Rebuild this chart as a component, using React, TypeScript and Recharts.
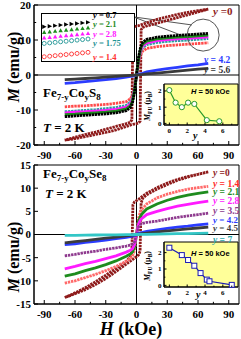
import React from 'react';
import { LineChart, Line, XAxis, YAxis, ReferenceLine, ReferenceArea, ReferenceDot, CartesianGrid } from 'recharts';

const SERIF = '"Liberation Serif", "Times New Roman", serif';
const SANS = '"Liberation Sans", Arial, sans-serif';

// field grids (kOe)
const fieldGrid = [-70, -60, -50, -40, -30, -20, -10, -6, -4, -2, 0, 2, 4, 6, 10, 20, 30, 40, 50, 60, 70];
const loopDown = [70, 60, 50, 40, 30, 20, 10, 5, 2, 0, -2, -3.5, -4.5, -6, -10, -20, -30, -40, -50, -60, -70];
const loopUp = [-70, -60, -50, -40, -30, -20, -10, -5, -2, 0, 2, 3.5, 4.5, 6, 10, 20, 30, 40, 50, 60, 70];
const hTicks = [-90, -75, -60, -45, -30, -15, 0, 15, 30, 45, 60, 75, 90];

// Fe7-yCoyS8, M (emu/g)
const s8Y0Down = [18.8, 18.4, 17.9, 17.3, 16.6, 15.9, 14.9, 14.4, 14.1, 14.0, 13.8, 13.3, -12.8, -13.5, -13.9, -14.7, -15.5, -16.3, -17.0, -17.8, -18.6];
const s8Y0Up = [-18.6, -18.2, -17.6, -17.0, -16.4, -15.7, -14.7, -14.2, -14.0, -13.9, -13.7, -13.2, 12.9, 13.6, 14.0, 14.8, 15.6, 16.4, 17.2, 18.0, 18.8];
const s8Y07 = [-11.9, -11.7, -11.5, -11.3, -11.1, -10.8, -10.2, -9.3, -8.0, -5.0, 0, 5.0, 8.0, 9.3, 10.2, 10.8, 11.1, 11.3, 11.5, 11.7, 11.9];
const s8Y21 = [-11.3, -11.2, -11.0, -10.8, -10.6, -10.3, -9.7, -8.8, -7.5, -4.5, 0, 4.5, 7.5, 8.8, 9.7, 10.3, 10.6, 10.8, 11.0, 11.2, 11.4];
const s8Y28 = [-10.8, -10.6, -10.5, -10.3, -10.1, -9.8, -9.2, -8.3, -7.0, -4.2, 0, 4.2, 7.0, 8.3, 9.2, 9.8, 10.1, 10.3, 10.5, 10.7, 10.9];
const s8Y175 = [-10.5, -10.3, -10.1, -9.9, -9.6, -9.3, -8.7, -7.8, -6.6, -4.0, 0, 4.0, 6.6, 7.8, 8.7, 9.3, 9.6, 9.8, 10.0, 10.2, 10.4];
const s8Y14 = [-9.1, -8.9, -8.8, -8.6, -8.4, -8.1, -7.6, -6.8, -5.8, -3.5, 0, 3.5, 5.8, 6.8, 7.6, 8.1, 8.4, 8.6, 8.8, 9.0, 9.2];
const s8Y42 = [-2.4, -2.2, -1.9, -1.6, -1.3, -1.0, -0.6, -0.4, -0.3, -0.15, 0, 0.2, 0.35, 0.5, 0.9, 1.4, 1.8, 2.2, 2.6, 2.9, 3.3];
const s8Y56 = [-1.3, -1.15, -1.0, -0.8, -0.6, -0.4, -0.2, -0.12, -0.08, -0.04, 0, 0.05, 0.1, 0.15, 0.3, 0.55, 0.8, 1.1, 1.4, 1.65, 1.9];

// zoomed inset (circled region)
const zoomH = [50, 52.5, 55, 57.5, 60, 62.5, 65, 67.5, 70];
const zoomY07 = [11.5, 11.55, 11.6, 11.65, 11.7, 11.75, 11.8, 11.85, 11.9];
const zoomY21 = [11.0, 11.05, 11.1, 11.15, 11.2, 11.25, 11.3, 11.35, 11.4];
const zoomY28 = [10.5, 10.55, 10.6, 10.65, 10.7, 10.75, 10.8, 10.85, 10.9];
const zoomY175 = [10.0, 10.05, 10.1, 10.15, 10.2, 10.25, 10.3, 10.35, 10.4];
const zoomY14 = [8.8, 8.85, 8.9, 8.95, 9.0, 9.05, 9.1, 9.15, 9.2];

// Fe7-yCoySe8, M (emu/g)
const se8Y0Down = [13.5, 13.0, 12.5, 11.9, 11.1, 10.1, 8.9, 8.1, 7.6, 7.3, 7.0, 6.4, -3.6, -4.8, -5.8, -7.3, -8.8, -10.2, -11.5, -12.6, -13.6];
const se8Y0Up = [-13.6, -12.8, -11.9, -10.8, -9.5, -8.0, -6.4, -5.6, -5.1, -4.8, -4.4, -3.6, 6.8, 7.8, 8.6, 9.8, 10.8, 11.7, 12.4, 13.0, 13.5];
const se8Y14 = [-10.5, -10.0, -9.3, -8.6, -7.8, -6.9, -5.8, -5.2, -4.7, -3.5, 0, 3.6, 5.0, 5.6, 6.6, 7.9, 8.7, 9.3, 9.8, 10.1, 10.4];
const se8Y21 = [-9.0, -8.5, -7.8, -7.2, -6.5, -5.7, -4.7, -4.2, -3.8, -2.8, 0, 2.9, 4.0, 4.6, 5.5, 6.6, 7.4, 8.0, 8.5, 8.9, 9.2];
const se8Y28 = [-7.4, -6.9, -6.3, -5.8, -5.2, -4.6, -3.8, -3.4, -3.1, -2.2, 0, 2.3, 3.2, 3.6, 4.3, 5.0, 5.6, 6.1, 6.5, 6.9, 7.2];
const se8Y35 = [-4.6, -4.3, -3.9, -3.6, -3.2, -2.9, -2.5, -2.3, -2.1, -1.6, 0, 1.6, 2.2, 2.4, 2.6, 2.9, 3.3, 3.7, 4.0, 4.3, 4.6];
const se8Y42 = [-2.2, -2.0, -1.7, -1.5, -1.2, -0.9, -0.6, -0.45, -0.35, -0.2, 0, 0.2, 0.35, 0.45, 0.7, 1.0, 1.3, 1.6, 1.8, 2.1, 2.3];
const se8Y45 = [-1.8, -1.55, -1.3, -1.05, -0.8, -0.55, -0.3, -0.2, -0.13, -0.07, 0, 0.07, 0.13, 0.2, 0.3, 0.55, 0.8, 1.0, 1.2, 1.4, 1.6];
const se8Y7 = [-0.2, -0.17, -0.14, -0.11, -0.08, -0.06, -0.03, -0.02, -0.01, 0, 0, 0, 0.01, 0.02, 0.04, 0.08, 0.12, 0.17, 0.21, 0.26, 0.3];

// M_FU (muB) at H = 50 kOe vs y
const s8Conc = [0, 0.7, 1.4, 2.1, 2.8, 4.2, 5.6];
const s8Mfu = [2.05, 1.28, 1.0, 1.28, 1.2, 0.2, 0.13];
const se8Conc = [0, 1.4, 2.1, 2.8, 3.5, 4.2, 4.5, 7];
const se8Mfu = [2.3, 1.85, 1.55, 1.2, 0.75, 0.35, 0.25, 0.03];

const pts = (hs: number[], ms: number[]) => hs.map((h, i) => ({ h, m: ms[i] }));

// open-symbol curves get a dashed texture so they read like rows of markers
const topSeries = [
  { key: 'y0', color: '#8e1b1b', dash: '2.4 0.8', data: [...pts(loopDown, s8Y0Down), ...pts(loopUp, s8Y0Up)] },
  { key: 'y14', color: '#ff4a4a', dash: '2.4 0.8', data: pts(fieldGrid, s8Y14) },
  { key: 'y175', color: '#2a9d9d', dash: '2.4 0.8', data: pts(fieldGrid, s8Y175) },
  { key: 'y28', color: '#ff1aff', data: pts(fieldGrid, s8Y28) },
  { key: 'y21', color: '#1e8c1e', data: pts(fieldGrid, s8Y21) },
  { key: 'y07', color: '#000000', dash: '2.4 0.6', data: pts(fieldGrid, s8Y07) },
  { key: 'y42', color: '#2b3cff', data: pts(fieldGrid, s8Y42) },
  { key: 'y56', color: '#3a3a3a', data: pts(fieldGrid, s8Y56) },
];

const zoomSeries = [
  { key: 'y14', color: '#ff3030', data: pts(zoomH, zoomY14), shape: 'open' },
  { key: 'y175', color: '#1f9494', data: pts(zoomH, zoomY175), shape: 'open' },
  { key: 'y28', color: '#ff1aff', data: pts(zoomH, zoomY28), shape: 'tri' },
  { key: 'y21', color: '#1e8c1e', data: pts(zoomH, zoomY21), shape: 'tri' },
  { key: 'y07', color: '#000000', data: pts(zoomH, zoomY07), shape: 'right' },
];

const bottomSeries = [
  { key: 'y0', color: '#8e1b1b', dash: '2.4 0.8', data: [...pts(loopDown, se8Y0Down), ...pts(loopUp, se8Y0Up)] },
  { key: 'y14', color: '#ff6a6a', dash: '2.4 0.8', data: pts(fieldGrid, se8Y14) },
  { key: 'y21', color: '#1e8c1e', data: pts(fieldGrid, se8Y21) },
  { key: 'y28', color: '#ff1aff', data: pts(fieldGrid, se8Y28) },
  { key: 'y35', color: '#8e3a8e', dash: '2.4 0.8', data: pts(fieldGrid, se8Y35) },
  { key: 'y42', color: '#2b3cff', data: pts(fieldGrid, se8Y42) },
  { key: 'y45', color: '#3c3c3c', data: pts(fieldGrid, se8Y45) },
  { key: 'y7', color: '#33c6c6', data: pts(fieldGrid, se8Y7) },
];

// inward ticks with labels outside
const xTick = (isMajor: (v: number) => boolean, len: number, fs: number, off: number) => (props: any) => {
  const { x, y, payload } = props;
  const v = payload.value as number;
  const major = isMajor(v);
  return (
    <g>
      <line x1={x} x2={x} y1={y} y2={y - (major ? len : len * 0.55)} stroke="#000" />
      {major && (
        <text x={x} y={y + off} textAnchor="middle" fontSize={fs} fontWeight="bold" fontFamily={SERIF} fill="#000">
          {v}
        </text>
      )}
    </g>
  );
};

const yTick = (isMajor: (v: number) => boolean, len: number, fs: number, gap: number) => (props: any) => {
  const { x, y, payload } = props;
  const v = payload.value as number;
  const major = isMajor(v);
  return (
    <g>
      <line x1={x} x2={x + (major ? len : len * 0.55)} y1={y} y2={y} stroke="#000" />
      {major && (
        <text x={x - gap} y={y + fs * 0.35} textAnchor="end" fontSize={fs} fontWeight="bold" fontFamily={SERIF} fill="#000">
          {v}
        </text>
      )}
    </g>
  );
};

const zoomDot = (shape: string, color: string) => (p: any) => {
  const { cx, cy, index } = p;
  if (shape === 'open') return <circle key={index} cx={cx} cy={cy} r={2} fill="#fff" stroke={color} strokeWidth={0.9} />;
  if (shape === 'right')
    return <path key={index} d={`M${cx - 2},${cy - 2.2}L${cx + 2.4},${cy}L${cx - 2},${cy + 2.2}Z`} fill={color} />;
  return <path key={index} d={`M${cx},${cy - 2.3}L${cx + 2.2},${cy + 1.6}L${cx - 2.2},${cy + 1.6}Z`} fill={color} />;
};

const squareDot = (p: any) => (
  <rect key={p.index} x={p.cx - 2.5} y={p.cy - 2.5} width={5} height={5} fill="#fff" stroke="#1c1cb4" strokeWidth={1} />
);
const circleDot = (p: any) => (
  <circle key={p.index} cx={p.cx} cy={p.cy} r={2.6} fill="#fff" stroke="#2a9a2a" strokeWidth={1} />
);

function MfuInset({ data, color, dot, yMax }: { data: { h: number; m: number }[]; color: string; dot: any; yMax: number }) {
  const h = yMax > 2.5 ? 67 : 62;
  return (
    <LineChart width={101} height={h} margin={{ top: 6, right: 3, left: 0, bottom: 0 }}>
      <CartesianGrid fill="#ffff99" horizontal={false} vertical={false} />
      <XAxis
        dataKey="h"
        type="number"
        domain={[-0.6, 7.7]}
        ticks={[0, 1, 2, 3, 4, 5, 6, 7]}
        interval={0}
        tickSize={0}
        tickMargin={0}
        tickLine={false}
        axisLine={{ stroke: '#000' }}
        height={h - 6 - (yMax > 2.5 ? 45 : 41)}
        tick={xTick((v) => v % 2 === 0, 2.5, 7, 8)}
      />
      <YAxis
        type="number"
        domain={[-0.1, yMax]}
        ticks={[0, 0.5, 1, 1.5, 2]}
        interval={0}
        tickSize={0}
        tickMargin={0}
        tickLine={false}
        axisLine={{ stroke: '#000' }}
        width={24}
        tick={yTick((v) => Number.isInteger(v), 2.5, 7, 2.5)}
      />
      <ReferenceArea x1={-0.6} x2={7.7} y1={-0.1} y2={yMax} fill="none" stroke="#000" />
      <Line data={data} dataKey="m" stroke={color} strokeWidth={1.2} dot={dot} isAnimationActive={false} />
    </LineChart>
  );
}

function Panel({ series, yDomain, yTicks, yMajor, height, axisH, children }: any) {
  return (
    <LineChart width={241} height={height} margin={{ top: 5, right: 2, left: 0, bottom: 0 }}>
      <XAxis
        dataKey="h"
        type="number"
        domain={[-100, 100]}
        ticks={hTicks}
        interval={0}
        tickSize={0}
        tickMargin={0}
        tickLine={false}
        axisLine={{ stroke: '#000' }}
        height={axisH}
        tick={xTick((v) => v % 30 === 0, 4, 11, 14)}
      />
      <YAxis
        type="number"
        domain={yDomain}
        ticks={yTicks}
        interval={0}
        tickSize={0}
        tickMargin={0}
        tickLine={false}
        axisLine={{ stroke: '#000' }}
        width={34}
        tick={yTick(yMajor, 4, 11, 3)}
      />
      <ReferenceArea x1={-100} x2={100} y1={yDomain[0]} y2={yDomain[1]} fill="none" stroke="#000" />
      <ReferenceLine x={0} stroke="#000" />
      <ReferenceLine y={0} stroke="#000" />
      {children}
      {series.map((s: any) => (
        <Line
          key={s.key}
          data={s.data}
          dataKey="m"
          stroke={s.color}
          strokeWidth={2.8}
          strokeDasharray={s.dash}
          dot={false}
          isAnimationActive={false}
        />
      ))}
    </LineChart>
  );
}

const abs = (left: number, top: number, extra: React.CSSProperties = {}): React.CSSProperties => ({
  position: 'absolute',
  left,
  top,
  ...extra,
});

function Lab({ x, y, color, value, size = 11 }: { x: number; y: number; color: string; value: string; size?: number }) {
  return (
    <text x={x} y={y} fill={color} fontSize={size} fontWeight="bold" fontFamily={SERIF}>
      <tspan fontStyle="italic">y</tspan>
      {value}
    </text>
  );
}

export default function App() {
  return (
    <div style={abs(0, 0, { width: 241, height: 339, background: '#fff', fontFamily: SERIF })}>
      <div style={abs(0, 0)}>
        <Panel series={topSeries} yDomain={[-20, 20]} yTicks={[-20, -15, -10, -5, 0, 5, 10, 15, 20]} yMajor={(v: number) => v % 10 === 0} height={165} axisH={20}>
          <ReferenceDot x={65} y={11.4} r={16} fill="none" stroke="#555" />
          <ReferenceLine segment={[{ x: -3, y: 16.6 }, { x: 54, y: 14.3 }]} stroke="#555" />
          <ReferenceLine segment={[{ x: -3, y: 16.6 }, { x: 50.5, y: 10.6 }]} stroke="#555" />
        </Panel>
      </div>
      <div style={abs(0, 160)}>
        <Panel series={bottomSeries} yDomain={[-15, 15]} yTicks={[-15, -10, -5, 0, 5, 10, 15]} yMajor={() => true} height={179} axisH={35} />
      </div>

      {/* zoomed inset */}
      <div style={abs(41, 13, { width: 94, height: 49, boxSizing: 'border-box', border: '1px solid #000', background: '#fff' })}>
        <LineChart width={92} height={47} margin={{ top: 0, right: 0, left: 0, bottom: 0 }}>
          <XAxis dataKey="h" type="number" domain={[49, 91]} hide />
          <YAxis type="number" domain={[8.42, 12.65]} hide />
          {zoomSeries.map((s) => (
            <Line key={s.key} data={s.data} dataKey="m" stroke="none" dot={zoomDot(s.shape, s.color)} isAnimationActive={false} />
          ))}
        </LineChart>
      </div>

      <div style={abs(140, 78)}>
        <MfuInset data={pts(s8Conc, s8Mfu)} color="#2a9a2a" dot={circleDot} yMax={2.43} />
      </div>
      <div style={abs(140, 236)}>
        <MfuInset data={pts(se8Conc, se8Mfu)} color="#1c1cb4" dot={squareDot} yMax={2.65} />
      </div>

      <svg width={241} height={339} style={abs(0, 0, { pointerEvents: 'none' })}>
        <g fontFamily={SERIF} fontWeight="bold">
          {/* axis titles */}
          <text x={19} y={67} fontSize={16} textAnchor="middle" transform="rotate(-90 19 67)">
            <tspan fontStyle="italic">M</tspan> (emu/g)
          </text>
          <text x={19} y={257} fontSize={16} textAnchor="middle" transform="rotate(-90 19 257)">
            <tspan fontStyle="italic">M</tspan> (emu/g)
          </text>
          <text x={131} y={335} fontSize={18} textAnchor="middle">
            <tspan fontStyle="italic">H</tspan> (kOe)
          </text>

          {/* compositions */}
          <text x={43} y={97} fontSize={13}>
            Fe<tspan fontSize={9} dy={3}>7-y</tspan>
            <tspan dy={-3}>Co</tspan>
            <tspan fontSize={9} dy={3}>y</tspan>
            <tspan dy={-3}>S</tspan>
            <tspan fontSize={9} dy={3}>8</tspan>
          </text>
          <text x={43} y={131.5} fontSize={13}>
            <tspan fontStyle="italic">T</tspan> = 2 K
          </text>
          <text x={43} y={178} fontSize={13}>
            Fe<tspan fontSize={9} dy={3}>7-y</tspan>
            <tspan dy={-3}>Co</tspan>
            <tspan fontSize={9} dy={3}>y</tspan>
            <tspan dy={-3}>Se</tspan>
            <tspan fontSize={9} dy={3}>8</tspan>
          </text>
          <text x={45} y={198} fontSize={13}>
            <tspan fontStyle="italic">T</tspan> = 2 K
          </text>
        </g>

        {/* curve labels, top panel */}
        <Lab x={213} y={15} color="#8e1b1b" value=" =0" size={11} />
        <Lab x={204} y={62.5} color="#2b3cff" value=" = 4.2" size={9.5} />
        <Lab x={204} y={72.5} color="#333" value=" = 5.6" size={9.5} />
        <Lab x={93} y={18} color="#000" value=" = 0.7" size={8.5} />
        <Lab x={93} y={26.5} color="#1e8c1e" value=" = 2.1" size={8.5} />
        <Lab x={93} y={36.5} color="#ff1aff" value=" = 2.8" size={8.5} />
        <Lab x={93} y={46} color="#1f9494" value=" = 1.75" size={8.5} />
        <Lab x={93} y={59.5} color="#ff3030" value=" = 1.4" size={8.5} />

        {/* curve labels, bottom panel */}
        <Lab x={213} y={176} color="#8e1b1b" value=" =0" size={9.5} />
        <Lab x={213} y={186.5} color="#ff2a2a" value=" = 1.4" size={9.5} />
        <Lab x={213} y={195} color="#1e8c1e" value=" = 2.1" size={9.5} />
        <Lab x={213} y={204} color="#ff1aff" value=" = 2.8" size={9.5} />
        <Lab x={213} y={214} color="#8e3a8e" value=" = 3.5" size={9.5} />
        <Lab x={213} y={222.5} color="#2b3cff" value=" = 4.2" size={9} />
        <Lab x={213} y={231} color="#3c3c3c" value=" = 4.5" size={9} />
        <Lab x={213} y={243} color="#2aa8a8" value=" = 7" size={9.5} />

        {/* inset annotations */}
        <g fontFamily={SANS} fontWeight="bold" fontSize={7.5}>
          <text x={191} y={94}>
            <tspan fontStyle="italic">H</tspan> = 50 kOe
          </text>
          <text x={191} y={256}>
            <tspan fontStyle="italic">H</tspan> = 50 kOe
          </text>
        </g>
        <g fontFamily={SERIF} fontWeight="bold">
          <text x={150} y={106} fontSize={8} textAnchor="middle" transform="rotate(-90 150 106)">
            <tspan fontStyle="italic">M</tspan>
            <tspan fontSize={5.5} dy={2}>FU</tspan>
            <tspan dy={-2}> (μ</tspan>
            <tspan fontSize={5.5} dy={2}>B</tspan>
            <tspan dy={-2}>)</tspan>
          </text>
          <text x={150} y={266} fontSize={8} textAnchor="middle" transform="rotate(-90 150 266)">
            <tspan fontStyle="italic">M</tspan>
            <tspan fontSize={5.5} dy={2}>FU</tspan>
            <tspan dy={-2}> (μ</tspan>
            <tspan fontSize={5.5} dy={2}>B</tspan>
            <tspan dy={-2}>)</tspan>
          </text>
          <text x={193} y={139} fontSize={10} fontStyle="italic">y</text>
          <text x={196} y={298} fontSize={10} fontStyle="italic">y</text>
        </g>
      </svg>
    </div>
  );
}
